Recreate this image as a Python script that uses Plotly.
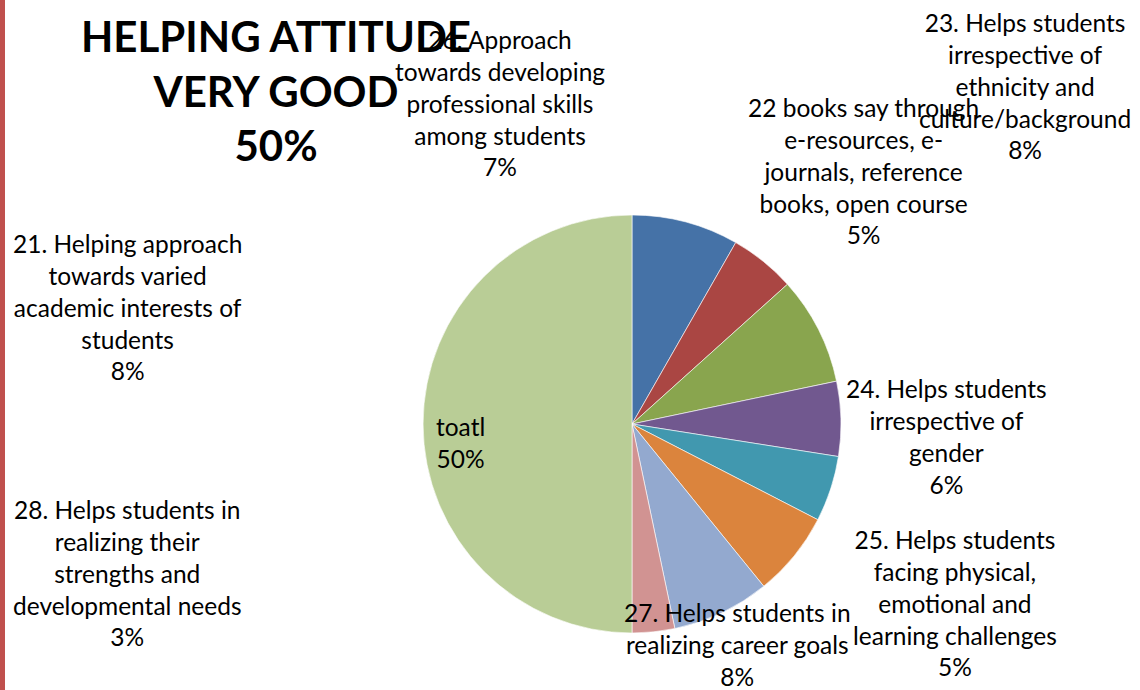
import plotly.graph_objects as go

W, H = 1140, 690

categories = [
    "21. Helping approach towards varied academic interests of students",
    "22 books say through e-resources, e-journals, reference books, open course",
    "23. Helps students irrespective of ethnicity and culture/background",
    "24. Helps students irrespective of gender",
    "25. Helps students facing physical, emotional and learning challenges",
    "26. Approach towards developing professional skills among students",
    "27. Helps students in realizing career goals",
    "28. Helps students in realizing their strengths and developmental needs",
    "toatl",
]
label_lines = [
    "21. Helping approach<br>towards varied<br>academic interests of<br>students",
    "22 books say through<br>e-resources, e-<br>journals, reference<br>books, open course",
    "23. Helps students<br>irrespective of<br>ethnicity and<br>culture/background",
    "24. Helps students<br>irrespective of<br>gender",
    "25. Helps students<br>facing physical,<br>emotional and<br>learning challenges",
    "26. Approach<br>towards developing<br>professional skills<br>among students",
    "27. Helps students in<br>realizing career goals",
    "28. Helps students in<br>realizing their<br>strengths and<br>developmental needs",
    "toatl",
]
item_values = [8.3, 5.1, 8.4, 5.8, 5.1, 6.6, 7.6, 3.3]
values = item_values + [sum(item_values)]
colors = ["#4572A7", "#AA4643", "#89A54E", "#71588F", "#4198AF",
          "#DB843D", "#93A9CF", "#D19392", "#B9CD96"]

# label block centres (pixels)
label_pos = [(127, 307), (863, 171), (1025, 86), (946, 436), (955, 603),
             (500, 103), (737, 644), (127, 573), (460, 442)]

cx, cy, r = 632, 424, 209

fig = go.Figure(go.Pie(
    labels=categories,
    values=values,
    sort=False,
    direction="clockwise",
    rotation=0,
    marker=dict(colors=colors, line=dict(color="white", width=0.6)),
    textinfo="none",
    showlegend=False,
    domain=dict(x=[(cx - r) / W, (cx + r) / W], y=[1 - (cy + r) / H, 1 - (cy - r) / H]),
))

total = sum(values)
for txt, v, (px, py) in zip(label_lines, values, label_pos):
    pct = round(v / total * 100)
    fig.add_annotation(
        x=px / W, y=1 - py / H, xref="paper", yref="paper",
        text=f"{txt}<br>{pct}%", showarrow=False, align="center",
        xanchor="center", yanchor="middle",
        font=dict(family="Lato", size=24.5, color="#000000"),
    )

fig.add_annotation(
    x=276 / W, y=1 - 90 / H, xref="paper", yref="paper",
    text="<b>HELPING ATTITUDE<br>VERY GOOD<br>50%</b>", showarrow=False,
    align="center", xanchor="center", yanchor="middle",
    font=dict(family="Lato", size=42, color="#000000"),
)

fig.add_shape(type="rect", xref="paper", yref="paper",
              x0=0, x1=5 / W, y0=0, y1=1, line=dict(width=0), fillcolor="#C0504D")

fig.update_layout(
    width=W, height=H,
    margin=dict(l=0, r=0, t=0, b=0),
    paper_bgcolor="white", plot_bgcolor="white",
)

fig.write_html("out.html", config={"displayModeBar": False},
               post_script="document.body.style.margin='0';")
